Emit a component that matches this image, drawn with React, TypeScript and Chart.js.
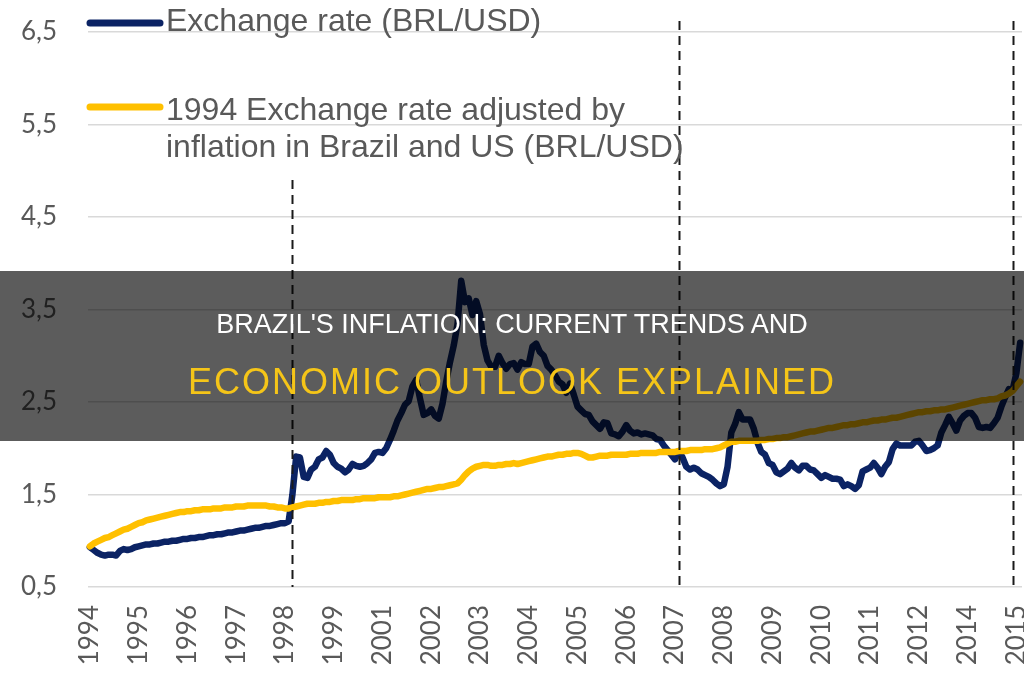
import { useEffect, useRef } from "react";
import { Chart, registerables } from "chart.js";

Chart.register(...registerables);

// Monthly series starting July 1994
const START_YEAR = 1994;
const START_MONTH = 7;

// Nominal exchange rate, BRL per USD (monthly average)
const EXCHANGE_RATE = [
  0.93, 0.90, 0.87, 0.85, 0.84, 0.85, // 1994 Jul-Dec
  0.85, 0.84, 0.89, 0.91, 0.90, 0.91, 0.93, 0.94, 0.95, 0.96, 0.96, 0.97, // 1995
  0.97, 0.98, 0.99, 0.99, 1.00, 1.00, 1.01, 1.02, 1.02, 1.03, 1.03, 1.04, // 1996
  1.04, 1.05, 1.06, 1.06, 1.07, 1.07, 1.08, 1.09, 1.09, 1.10, 1.11, 1.11, // 1997
  1.12, 1.13, 1.14, 1.14, 1.15, 1.16, 1.16, 1.17, 1.18, 1.19, 1.19, 1.21, // 1998
  1.50, 1.91, 1.90, 1.69, 1.68, 1.77, 1.80, 1.88, 1.90, 1.97, 1.93, 1.84, // 1999
  1.80, 1.78, 1.74, 1.77, 1.83, 1.81, 1.80, 1.81, 1.84, 1.88, 1.95, 1.96, // 2000
  1.95, 2.00, 2.09, 2.19, 2.30, 2.38, 2.47, 2.51, 2.67, 2.74, 2.54, 2.36, // 2001
  2.38, 2.42, 2.35, 2.32, 2.48, 2.72, 2.93, 3.11, 3.34, 3.81, 3.58, 3.62, // 2002
  3.44, 3.59, 3.45, 3.12, 2.95, 2.88, 2.88, 3.00, 2.92, 2.86, 2.91, 2.92, // 2003
  2.85, 2.93, 2.91, 2.91, 3.10, 3.13, 3.04, 3.00, 2.89, 2.85, 2.79, 2.72, // 2004
  2.69, 2.60, 2.70, 2.58, 2.45, 2.41, 2.37, 2.36, 2.29, 2.25, 2.21, 2.28, // 2005
  2.27, 2.16, 2.15, 2.13, 2.18, 2.25, 2.19, 2.16, 2.17, 2.15, 2.16, 2.15, // 2006
  2.14, 2.10, 2.09, 2.03, 1.98, 1.93, 1.88, 1.97, 1.90, 1.80, 1.77, 1.79, // 2007
  1.77, 1.73, 1.71, 1.69, 1.66, 1.62, 1.59, 1.61, 1.80, 2.17, 2.26, 2.39, // 2008
  2.31, 2.31, 2.31, 2.21, 2.06, 1.96, 1.93, 1.84, 1.82, 1.74, 1.72, 1.75, // 2009
  1.78, 1.84, 1.79, 1.76, 1.81, 1.81, 1.77, 1.76, 1.72, 1.68, 1.71, 1.69, // 2010
  1.67, 1.67, 1.66, 1.59, 1.61, 1.59, 1.56, 1.60, 1.75, 1.77, 1.79, 1.84, // 2011
  1.79, 1.72, 1.80, 1.85, 1.99, 2.05, 2.03, 2.03, 2.03, 2.03, 2.07, 2.08, // 2012
  2.03, 1.97, 1.98, 2.00, 2.03, 2.17, 2.25, 2.34, 2.27, 2.19, 2.30, 2.35, // 2013
  2.38, 2.38, 2.33, 2.23, 2.22, 2.23, 2.22, 2.27, 2.33, 2.45, 2.55, 2.64, // 2014
  2.63, 2.81, 3.14, // 2015 Jan-Mar
];

// July 1994 rate carried forward by Brazilian vs US inflation
const ADJUSTED_RATE = [
  0.94, 0.97, 0.99, 1.01, 1.03, 1.04, // 1994 Jul-Dec
  1.06, 1.08, 1.10, 1.12, 1.13, 1.15, 1.17, 1.19, 1.20, 1.22, 1.23, 1.24, // 1995
  1.25, 1.26, 1.27, 1.28, 1.29, 1.30, 1.31, 1.31, 1.32, 1.32, 1.33, 1.33, // 1996
  1.34, 1.34, 1.34, 1.35, 1.35, 1.35, 1.36, 1.36, 1.36, 1.37, 1.37, 1.37, // 1997
  1.38, 1.38, 1.38, 1.38, 1.38, 1.38, 1.37, 1.37, 1.36, 1.36, 1.35, 1.35, // 1998
  1.36, 1.37, 1.38, 1.39, 1.40, 1.40, 1.40, 1.41, 1.41, 1.42, 1.42, 1.43, // 1999
  1.43, 1.44, 1.44, 1.44, 1.44, 1.45, 1.45, 1.46, 1.46, 1.46, 1.46, 1.47, // 2000
  1.47, 1.47, 1.47, 1.48, 1.48, 1.49, 1.50, 1.51, 1.52, 1.53, 1.54, 1.55, // 2001
  1.56, 1.56, 1.57, 1.58, 1.58, 1.59, 1.60, 1.61, 1.62, 1.66, 1.71, 1.75, // 2002
  1.78, 1.80, 1.81, 1.82, 1.82, 1.81, 1.81, 1.82, 1.82, 1.83, 1.83, 1.84, // 2003
  1.83, 1.84, 1.85, 1.86, 1.87, 1.88, 1.89, 1.90, 1.91, 1.91, 1.92, 1.93, // 2004
  1.93, 1.94, 1.94, 1.95, 1.95, 1.94, 1.92, 1.90, 1.90, 1.91, 1.92, 1.92, // 2005
  1.92, 1.93, 1.93, 1.93, 1.93, 1.93, 1.94, 1.94, 1.94, 1.95, 1.95, 1.95, // 2006
  1.95, 1.95, 1.96, 1.96, 1.96, 1.96, 1.96, 1.97, 1.97, 1.97, 1.98, 1.98, // 2007
  1.98, 1.98, 1.99, 1.99, 1.99, 2.00, 2.01, 2.03, 2.05, 2.07, 2.07, 2.08, // 2008
  2.08, 2.08, 2.08, 2.08, 2.08, 2.09, 2.09, 2.10, 2.10, 2.11, 2.11, 2.12, // 2009
  2.12, 2.13, 2.14, 2.15, 2.16, 2.17, 2.18, 2.18, 2.19, 2.20, 2.21, 2.22, // 2010
  2.22, 2.23, 2.24, 2.25, 2.25, 2.26, 2.26, 2.27, 2.28, 2.28, 2.29, 2.30, // 2011
  2.30, 2.31, 2.31, 2.32, 2.33, 2.33, 2.34, 2.35, 2.36, 2.37, 2.38, 2.39, // 2012
  2.39, 2.40, 2.40, 2.41, 2.41, 2.42, 2.42, 2.43, 2.44, 2.45, 2.46, 2.47, // 2013
  2.48, 2.49, 2.50, 2.51, 2.52, 2.52, 2.53, 2.53, 2.54, 2.56, 2.57, 2.59, // 2014
  2.62, 2.67, 2.72, // 2015 Jan-Mar
];

const SERIES_NAMES = ["Exchange rate (BRL/USD)", "1994 Exchange rate adjusted by\ninflation in Brazil and US (BRL/USD)"];
const SERIES_COLORS = ["#0b2364", "#ffc000"];

// Axis labels: one year label every 13 months
const X_TICK_LABELS = [
  "1994", "1995", "1996", "1997", "1998", "1999", "2001", "2002", "2003", "2004",
  "2005", "2006", "2007", "2008", "2009", "2010", "2011", "2012", "2014", "2015",
];
const X_TICK_EVERY = 13;
const Y_TICK_VALUES = [0.5, 1.5, 2.5, 3.5, 4.5, 5.5, 6.5];
const Y_TICK_LABELS = ["0,5", "1,5", "2,5", "3,5", "4,5", "5,5", "6,5"];

// Dashed reference lines: month and the value where each line starts
const MARKER_MONTHS = ["1999-01", "2007-08", "2015-01"];
const MARKER_TOPS = [4.9, 6.62, 6.62];

const TITLE_LINE_1 = "BRAZIL'S INFLATION: CURRENT TRENDS AND";
const TITLE_LINE_2 = "ECONOMIC OUTLOOK EXPLAINED";

const MONTHS = EXCHANGE_RATE.map((_, i) => {
  const t = START_MONTH - 1 + i;
  const y = START_YEAR + Math.floor(t / 12);
  const m = (t % 12) + 1;
  return `${y}-${String(m).padStart(2, "0")}`;
});

const TEXT_GRAY = "#595959";

const markerPlugin = {
  id: "markerLines",
  afterDatasetsDraw(chart: any) {
    const { ctx, chartArea, scales } = chart;
    ctx.save();
    ctx.strokeStyle = "#1a1a1a";
    ctx.lineWidth = 2;
    ctx.setLineDash([9, 6]);
    MARKER_MONTHS.forEach((month, i) => {
      const idx = MONTHS.indexOf(month);
      const x = Math.round(scales.x.getPixelForValue(idx)) + 0.5;
      const yTop = scales.y.getPixelForValue(MARKER_TOPS[i]);
      ctx.beginPath();
      ctx.moveTo(x, yTop);
      ctx.lineTo(x, chartArea.bottom);
      ctx.stroke();
    });
    ctx.restore();
  },
};

const legendPlugin = {
  id: "insetLegend",
  afterDraw(chart: any) {
    const { ctx, chartArea } = chart;
    const x0 = chartArea.left;
    const rows = [
      { line: 23, baselines: [31] },
      { line: 107, baselines: [120, 157] },
    ];
    ctx.save();
    ctx.font = "32px 'Liberation Sans', Arial, sans-serif";
    ctx.textBaseline = "alphabetic";
    ctx.textAlign = "left";
    chart.data.datasets.forEach((ds: any, i: number) => {
      const row = rows[i];
      ctx.strokeStyle = ds.borderColor;
      ctx.lineWidth = 7;
      ctx.lineCap = "round";
      ctx.beginPath();
      ctx.moveTo(x0 + 2, row.line);
      ctx.lineTo(x0 + 72, row.line);
      ctx.stroke();
      ctx.fillStyle = TEXT_GRAY;
      String(ds.label)
        .split("\n")
        .forEach((text: string, j: number) => {
          ctx.fillText(text, x0 + 78, row.baselines[j]);
        });
    });
    ctx.restore();
  },
};

export default function App() {
  const canvasRef = useRef<HTMLCanvasElement | null>(null);

  useEffect(() => {
    const canvas = canvasRef.current;
    if (!canvas) return;
    const chart = new Chart(canvas, {
      type: "line",
      data: {
        labels: MONTHS,
        datasets: [
          {
            label: SERIES_NAMES[0],
            data: EXCHANGE_RATE,
            borderColor: SERIES_COLORS[0],
            backgroundColor: SERIES_COLORS[0],
            borderWidth: 6.5,
            pointRadius: 0,
            tension: 0,
            borderJoinStyle: "round",
            borderCapStyle: "round",
            order: 2,
          },
          {
            label: SERIES_NAMES[1],
            data: ADJUSTED_RATE,
            borderColor: SERIES_COLORS[1],
            backgroundColor: SERIES_COLORS[1],
            borderWidth: 6.5,
            pointRadius: 0,
            tension: 0,
            borderJoinStyle: "round",
            borderCapStyle: "round",
            order: 1,
          },
        ],
      },
      options: {
        responsive: false,
        animation: false,
        events: [],
        layout: { padding: { left: 20, right: 2, top: 32, bottom: 0 } },
        plugins: {
          legend: { display: false },
          tooltip: { enabled: false },
          title: { display: false },
        },
        scales: {
          x: {
            type: "category",
            offset: true,
            grid: { display: false, drawTicks: false },
            border: { display: false },
            afterFit(scale: any) {
              scale.height = 93;
              scale.paddingLeft = 0;
              scale.paddingRight = 0;
            },
            ticks: {
              autoSkip: false,
              maxRotation: 90,
              minRotation: 90,
              padding: 18,
              color: TEXT_GRAY,
              font: { family: "Lato, 'Open Sans', sans-serif", size: 26 },
              callback(_value: any, index: number) {
                return index % X_TICK_EVERY === 0 ? X_TICK_LABELS[index / X_TICK_EVERY] : null;
              },
            },
          },
          y: {
            type: "linear",
            min: 0.5,
            max: 6.5,
            grid: { color: "#d9d9d9", lineWidth: 1.5, drawTicks: false },
            border: { display: false },
            afterFit(scale: any) {
              scale.width = 68;
              scale.paddingTop = 0;
              scale.paddingBottom = 0;
            },
            afterBuildTicks(scale: any) {
              scale.ticks = Y_TICK_VALUES.map((v) => ({ value: v }));
            },
            ticks: {
              padding: 31,
              color: TEXT_GRAY,
              font: { family: "Lato, 'Open Sans', sans-serif", size: 26 },
              callback(value: any) {
                const i = Y_TICK_VALUES.findIndex((v) => Math.abs(v - Number(value)) < 1e-6);
                return i >= 0 ? Y_TICK_LABELS[i] : "";
              },
            },
          },
        },
      },
      plugins: [markerPlugin, legendPlugin],
    });
    return () => chart.destroy();
  }, []);

  return (
    <div
      style={{
        position: "fixed",
        left: 0,
        top: 0,
        width: 1024,
        height: 680,
        background: "#ffffff",
        overflow: "hidden",
      }}
    >
      <canvas ref={canvasRef} width={1024} height={680} style={{ display: "block" }} />
      <div
        style={{
          position: "absolute",
          left: 0,
          top: 271,
          width: 1024,
          height: 170,
          background: "rgba(0,0,0,0.64)",
          fontFamily: "'Liberation Sans', Arial, sans-serif",
          textAlign: "center",
        }}
      >
        <div
          style={{
            position: "absolute",
            left: 0,
            width: 1024,
            top: 40,
            fontSize: 27,
            lineHeight: "27px",
            color: "#ffffff",
            whiteSpace: "nowrap",
          }}
        >
          {TITLE_LINE_1}
        </div>
        <div
          style={{
            position: "absolute",
            left: 0,
            width: 1024,
            top: 93,
            fontSize: 36,
            lineHeight: "36px",
            letterSpacing: 2,
            color: "#f5c518",
            whiteSpace: "nowrap",
          }}
        >
          {TITLE_LINE_2}
        </div>
      </div>
    </div>
  );
}
